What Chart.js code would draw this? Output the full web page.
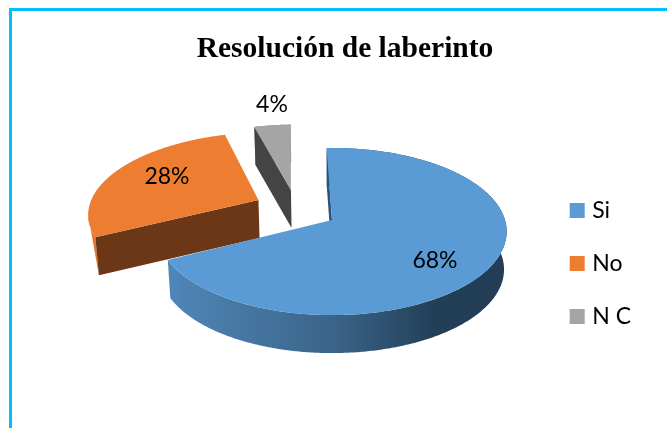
<!DOCTYPE html>
<html>
<head>
<meta charset="utf-8">
<style>
  html, body { margin: 0; padding: 0; background: #fff; }
  #wrap { position: relative; width: 667px; height: 428px; overflow: hidden; }
  #frame { position: absolute; left: 9px; top: 8px; width: 700px; height: 500px; border-left: 3px solid #00bfff; border-top: 3px solid #00bfff; }
  canvas { position: absolute; left: 0; top: 0; }
</style>
</head>
<body>
<div id="wrap">
  <div id="frame"></div>
  <canvas id="chart" width="667" height="428"></canvas>
</div>
<script src="https://cdn.jsdelivr.net/npm/chart.js@4"></script>
<script>
const categories = ['Si', 'No', 'N C'];
const values = [68, 28, 4];
const topColors = ['#5b9bd5', '#ed7d31', '#a5a5a5'];

// how the flat pie is tilted on the page
const disc = { cx: 332, cy: 220, rx: 173, ry: 82, k: 0.1376, depth: 38, shrink: 0.985 };
// exploded slices, in disc units (1 = radius)
const explode = [[0, 0], [-0.44, -0.253], [-0.25, -0.386]];
const wallColors = [null, '#e4772f', '#8a8a8a'];
const cutColors = ['#2a5578', '#6b3716', '#444444'];
const labelSpots = [[435, 261], [167, 177], [272, 105]];

function project(u, v, bottom) {
  const w = 1 - disc.k * v;
  let x = disc.rx * u / w;
  let y = disc.cy + disc.ry * v / w;
  if (bottom) {
    x *= disc.shrink;
    y += disc.depth;
  }
  return [disc.cx + x, y];
}

function rim(arc, ex, bottom) {
  const pts = [];
  const steps = Math.ceil((arc.endAngle - arc.startAngle) / 0.01);
  for (let i = 0; i <= steps; i++) {
    const a = arc.startAngle + (arc.endAngle - arc.startAngle) * i / steps;
    pts.push(project(ex[0] + Math.cos(a), ex[1] + Math.sin(a), bottom));
  }
  return pts;
}

function fillPoly(ctx, pts, fill) {
  ctx.beginPath();
  pts.forEach((p, i) => (i ? ctx.lineTo(p[0], p[1]) : ctx.moveTo(p[0], p[1])));
  ctx.closePath();
  ctx.fillStyle = fill;
  ctx.fill();
}

function cutFace(ctx, a, b, r, rb, inner, fill) {
  const ex = r[0] - a[0], ey = r[1] - a[1];
  const depthSide = ex;
  const innerSide = ex * (inner[1] - a[1]) - ey * (inner[0] - a[0]);
  if (Math.abs(depthSide) < 0.5 || depthSide * innerSide > 0) return;
  fillPoly(ctx, [a, r, rb, b], fill);
}

const pie3d = {
  id: 'pie3d',
  beforeDatasetDraw(chart) {
    const ctx = chart.ctx;
    const arcs = chart.getDatasetMeta(0).data;

    const blueWall = ctx.createLinearGradient(170, 0, 500, 0);
    blueWall.addColorStop(0, '#4f86b8');
    blueWall.addColorStop(0.5, '#3a6488');
    blueWall.addColorStop(0.8, '#233f58');
    blueWall.addColorStop(1, '#223d55');

    // back slices first, the big one goes on top
    [2, 1, 0].forEach(i => {
      const arc = arcs[i];
      const ex = explode[i];
      const top = rim(arc, ex, false);
      const low = rim(arc, ex, true);
      const apex = project(ex[0], ex[1], false);
      const apexLow = project(ex[0], ex[1], true);
      const mid = top[Math.floor(top.length / 2)];

      if (i === 1) {
        // orange only shows a thin straight sliver, from its leftmost point down to the front corner
        let left = 0;
        top.forEach((p, n) => { if (p[0] < top[left][0]) left = n; });
        fillPoly(ctx, top.slice(0, left + 1).concat([low[0]]), wallColors[i]);
      } else {
        fillPoly(ctx, top.concat(low.slice().reverse()), wallColors[i] || blueWall);
      }
      cutFace(ctx, apex, apexLow, top[0], low[0], mid, cutColors[i]);
      cutFace(ctx, apex, apexLow, top[top.length - 1], low[low.length - 1], mid, cutColors[i]);
      fillPoly(ctx, [apex].concat(top), topColors[i]);
    });

    ctx.fillStyle = '#000';
    ctx.font = '23px Lato';
    ctx.textAlign = 'center';
    ctx.textBaseline = 'middle';
    values.forEach((v, i) => ctx.fillText(v + '%', labelSpots[i][0], labelSpots[i][1]));
    return false;
  }
};

new Chart(document.getElementById('chart'), {
  type: 'pie',
  data: {
    labels: categories,
    datasets: [{
      data: values,
      backgroundColor: topColors,
      // only the legend shows this: small box + thick border keeps the text close to the square
      borderColor: topColors,
      borderWidth: 8
    }]
  },
  options: {
    responsive: false,
    animation: false,
    rotation: -2,
    layout: { padding: { left: 49, right: 26, top: 0, bottom: 70 } },
    plugins: {
      tooltip: { enabled: false },
      title: {
        display: true,
        text: 'Resolución de laberinto',
        color: '#000',
        font: { family: 'Liberation Serif', size: 29.5, weight: 'bold' },
        padding: { top: 32, bottom: 6 }
      },
      legend: {
        position: 'right',
        align: 'end',
        labels: {
          color: '#000',
          font: { family: 'Lato', size: 23 },
          boxWidth: 7,
          boxHeight: 7,
          padding: 30
        }
      }
    }
  },
  plugins: [pie3d]
});
</script>
</body>
</html>
